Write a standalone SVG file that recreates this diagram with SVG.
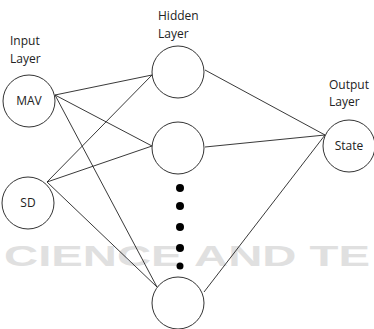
<svg xmlns="http://www.w3.org/2000/svg" width="374" height="329" viewBox="0 0 374 329">
<style>
.wm{fill:#e0e0e0;font-family:"Liberation Sans",Arial,sans-serif;font-weight:bold}
.node{fill:none;stroke:#333;stroke-width:1}
.lbl{font-family:"Open Sans","Liberation Sans",sans-serif;font-size:12px;fill:#222}
.nt{font-family:"Open Sans","Liberation Sans",sans-serif;font-size:12px;fill:#222;text-anchor:middle}
.edge{stroke:#222;stroke-width:0.9;fill:none}
.dot{fill:#000}
</style>
<rect width="374" height="329" fill="#fff"/>
<g id="watermark">
<text class="wm" x="4" y="266" font-size="29" textLength="366" lengthAdjust="spacingAndGlyphs">CIENCE AND TE</text>
</g>
<g id="connectors">
<line class="edge" x1="55" y1="95" x2="152" y2="75"/>
<line class="edge" x1="55" y1="95" x2="152" y2="146"/>
<line class="edge" x1="55" y1="95" x2="157" y2="287"/>
<line class="edge" x1="47" y1="182" x2="152" y2="75"/>
<line class="edge" x1="47" y1="182" x2="152" y2="146"/>
<line class="edge" x1="47" y1="182" x2="157" y2="287"/>
<line class="edge" x1="205" y1="70" x2="325" y2="135"/>
<line class="edge" x1="205" y1="147" x2="325" y2="135"/>
<line class="edge" x1="204" y1="292" x2="325" y2="135"/>
</g>
<g id="labels">
<text class="lbl" x="10" y="45">Input</text>
<text class="lbl" x="10" y="63">Layer</text>
<text class="lbl" x="158" y="20">Hidden</text>
<text class="lbl" x="158" y="38">Layer</text>
<text class="lbl" x="329" y="89">Output</text>
<text class="lbl" x="329" y="106">Layer</text>
</g>
<g id="mav"><circle class="node" cx="29" cy="101" r="26"/><text class="nt" x="29" y="105">MAV</text></g>
<g id="sd"><circle class="node" cx="28" cy="203" r="26"/><text class="nt" x="28" y="207">SD</text></g>
<g id="h1"><circle class="node" cx="178" cy="72" r="26"/></g>
<g id="h2"><circle class="node" cx="178" cy="148" r="26"/></g>
<g id="h3"><circle class="node" cx="178" cy="303" r="26"/></g>
<g id="state"><circle class="node" cx="349" cy="146" r="26"/><text class="nt" x="349" y="150">State</text></g>
<g id="dots">
<circle class="dot" cx="180" cy="188" r="4"/>
<circle class="dot" cx="180" cy="206" r="4"/>
<circle class="dot" cx="180" cy="227" r="4"/>
<circle class="dot" cx="180" cy="248" r="4"/>
<circle class="dot" cx="180" cy="266" r="3.5"/>
</g>
</svg>
